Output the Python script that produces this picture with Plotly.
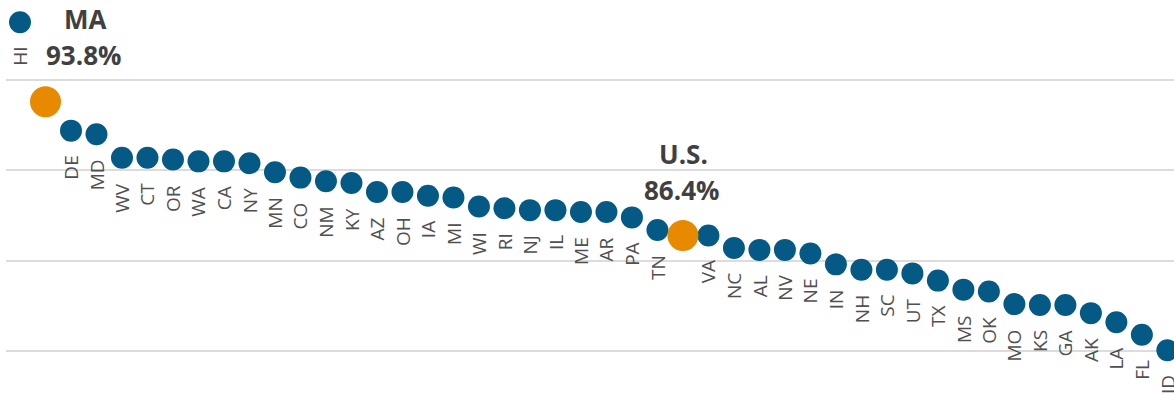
import plotly.graph_objects as go

# Share by state, sorted high to low, with the national figure placed in rank order
labels = ["HI", "MA", "DE", "MD", "WV", "CT", "OR", "WA", "CA", "NY",
          "MN", "CO", "NM", "KY", "AZ", "OH", "IA", "MI", "WI", "RI",
          "NJ", "IL", "ME", "AR", "PA", "TN", "U.S.", "VA", "NC", "AL",
          "NV", "NE", "IN", "NH", "SC", "UT", "TX", "MS", "OK", "MO",
          "KS", "GA", "AK", "LA", "FL", "ID"]
values = [98.2, 93.8, 92.2, 92.0, 90.7, 90.7, 90.6, 90.5, 90.5, 90.4,
          89.9, 89.6, 89.4, 89.3, 88.8, 88.8, 88.6, 88.5, 88.0, 87.9,
          87.8, 87.8, 87.7, 87.7, 87.4, 86.7, 86.4, 86.4, 85.7, 85.6,
          85.6, 85.4, 84.8, 84.5, 84.5, 84.3, 83.9, 83.4, 83.3, 82.6,
          82.55, 82.55, 82.1, 81.6, 80.9, 80.05]
highlighted = ["MA", "U.S."]

BLUE = "#045a85"
ORANGE = "#e88a00"
TEXT_DARK = "#404040"
TEXT_GREY = "#505050"

base_x = [l for l in labels if l not in highlighted]
base_y = [v for l, v in zip(labels, values) if l not in highlighted]
hi_x = [l for l in labels if l in highlighted]
hi_y = [v for l, v in zip(labels, values) if l in highlighted]

fig = go.Figure()
fig.add_trace(go.Scatter(
    x=base_x, y=base_y, mode="markers",
    marker=dict(size=22, color=BLUE, line=dict(width=0)),
    hoverinfo="x+y", showlegend=False,
))
fig.add_trace(go.Scatter(
    x=hi_x, y=hi_y, mode="markers",
    marker=dict(size=31, color=ORANGE, line=dict(width=0)),
    hoverinfo="x+y", showlegend=False,
))

annotations = []
# rotated state codes hanging under each dot
for l, v in zip(labels, values):
    if l in highlighted:
        continue
    annotations.append(dict(
        x=l, y=v, xref="x", yref="y", text=l, showarrow=False,
        textangle=-90, xanchor="center", yanchor="top", yshift=-23,
        font=dict(family="Open Sans, sans-serif", size=19, color=TEXT_GREY),
    ))

# callouts for the highlighted points
big = dict(family="Open Sans", size=26, color=TEXT_DARK)
ma_v = values[labels.index("MA")]
us_v = values[labels.index("U.S.")]
annotations += [
    dict(x="MA", y=ma_v, text="<b>MA</b>", showarrow=False, xshift=40,
         yshift=83, xanchor="center", yanchor="middle", font=big),
    dict(x="MA", y=ma_v, text=f"<b>{ma_v:.1f}%</b>", showarrow=False,
         xshift=38, yshift=47, xanchor="center", yanchor="middle", font=big),
    dict(x="U.S.", y=us_v, text="<b>U.S.</b>", showarrow=False, xshift=1,
         yshift=81, xanchor="center", yanchor="middle", font=big),
    dict(x="U.S.", y=us_v, text=f"<b>{us_v:.1f}%</b>", showarrow=False,
         xshift=-1, yshift=45, xanchor="center", yanchor="middle", font=big),
]

fig.update_layout(
    width=1174, height=395,
    margin=dict(l=6, r=0, t=0, b=0),
    paper_bgcolor="white", plot_bgcolor="white",
    annotations=annotations,
    xaxis=dict(
        type="category", categoryorder="array", categoryarray=labels,
        range=[-0.549, 45.26], showgrid=False, zeroline=False,
        showticklabels=False, showline=False, ticks="",
    ),
    yaxis=dict(
        range=[77.57, 99.43], tick0=0, dtick=5, showgrid=True,
        gridcolor="#dcdcdc", gridwidth=1.5, zeroline=False,
        showticklabels=False, showline=False, ticks="",
    ),
)

fig.write_html("out.html")
